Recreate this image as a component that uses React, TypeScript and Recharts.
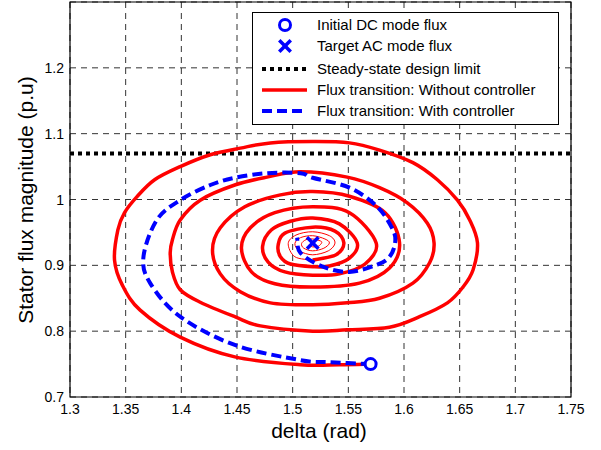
import React from 'react';
import {
  ComposedChart,
  Line,
  Scatter,
  XAxis,
  YAxis,
  CartesianGrid,
  ReferenceLine,
  ReferenceArea,
} from 'recharts';

// Axis ticks
const deltaTicks = [1.3, 1.35, 1.4, 1.45, 1.5, 1.55, 1.6, 1.65, 1.7, 1.75];
const fluxTicks = [0.7, 0.8, 0.9, 1.0, 1.1, 1.2];

// Steady-state design limit (p.u)
const steadyStateLimit = 1.07;

// Operating points
const initialDelta = [1.57];
const initialFlux = [0.75];
const targetDelta = [1.518];
const targetFlux = [0.934];

// Flux transition without controller (outer, heavy part of the spiral)
const noCtrlDelta = [
  // turn 1
  1.570, 1.542, 1.507, 1.448, 1.399, 1.363, 1.347, 1.340, 1.343, 1.349, 1.360, 1.376, 1.399, 1.426,
  1.453, 1.480, 1.518, 1.551, 1.578, 1.608, 1.630, 1.648, 1.659, 1.666, 1.662, 1.653, 1.639, 1.614,
  1.587, 1.549, 1.518,
  // turn 2
  1.471, 1.448, 1.417, 1.399, 1.392, 1.390, 1.392, 1.399, 1.417, 1.448, 1.477, 1.507, 1.549, 1.578,
  1.603, 1.621, 1.627, 1.623, 1.608, 1.578, 1.549, 1.518,
  // turn 3
  1.480, 1.453, 1.435, 1.428, 1.435, 1.457, 1.489, 1.518, 1.551, 1.583, 1.596, 1.587, 1.560, 1.518,
  // turn 4
  1.484, 1.463, 1.454, 1.462, 1.484, 1.518, 1.551, 1.575, 1.565, 1.542, 1.518,
  // turn 5
  1.493, 1.478, 1.473, 1.481, 1.498, 1.518, 1.542, 1.558, 1.551, 1.533, 1.518,
  // turn 6
  1.498, 1.489, 1.487, 1.493, 1.518, 1.538, 1.546, 1.539, 1.518,
];
const noCtrlFlux = [
  // turn 1
  0.750, 0.749, 0.749, 0.761, 0.791, 0.832, 0.870, 0.908, 0.954, 0.980, 1.004, 1.030, 1.050, 1.068,
  1.078, 1.086, 1.088, 1.086, 1.075, 1.056, 1.030, 0.999, 0.969, 0.934, 0.893, 0.867, 0.843, 0.822,
  0.806, 0.802, 0.800,
  // turn 2
  0.808, 0.822, 0.844, 0.863, 0.890, 0.919, 0.939, 0.969, 0.999, 1.022, 1.034, 1.042, 1.034, 1.018,
  0.995, 0.964, 0.934, 0.904, 0.873, 0.850, 0.843, 0.840,
  // turn 3
  0.843, 0.860, 0.887, 0.923, 0.957, 0.989, 1.007, 1.012, 1.005, 0.980, 0.934, 0.896, 0.873, 0.867,
  // turn 4
  0.872, 0.890, 0.926, 0.957, 0.980, 0.989, 0.980, 0.934, 0.902, 0.887, 0.885,
  // turn 5
  0.890, 0.905, 0.929, 0.954, 0.967, 0.972, 0.963, 0.934, 0.911, 0.899, 0.898,
  // turn 6
  0.902, 0.913, 0.931, 0.949, 0.958, 0.952, 0.934, 0.916, 0.908,
];

// Flux transition without controller (inner, settling rings)
const noCtrlTailDelta = [
  1.518, 1.502, 1.496, 1.503, 1.518, 1.533, 1.538, 1.532, 1.518, 1.506, 1.502, 1.507, 1.518, 1.529,
  1.533, 1.528, 1.518, 1.510, 1.508, 1.512, 1.518, 1.525, 1.526, 1.523, 1.518, 1.515, 1.518,
];
const noCtrlTailFlux = [
  0.908, 0.913, 0.933, 0.946, 0.951, 0.945, 0.934, 0.922, 0.916, 0.922, 0.933, 0.942, 0.945, 0.940,
  0.934, 0.926, 0.922, 0.926, 0.933, 0.939, 0.940, 0.937, 0.934, 0.929, 0.928, 0.931, 0.934,
];

// Flux transition with controller
const ctrlDelta = [
  1.570, 1.533, 1.507, 1.448, 1.399, 1.372, 1.366, 1.378, 1.399, 1.426, 1.448, 1.477, 1.507, 1.518,
  1.551, 1.576, 1.590, 1.592, 1.587, 1.576, 1.551, 1.527, 1.507, 1.504,
];
const ctrlFlux = [
  0.750, 0.753, 0.756, 0.779, 0.822, 0.873, 0.913, 0.969, 0.999, 1.022, 1.033, 1.040, 1.040, 1.033,
  1.018, 0.989, 0.954, 0.934, 0.913, 0.901, 0.890, 0.898, 0.919, 0.942,
];

const toPoints = (xs: number[], ys: number[]) => xs.map((x, i) => ({ x, y: ys[i] }));

const noCtrlData = toPoints(noCtrlDelta, noCtrlFlux);
const noCtrlTailData = toPoints(noCtrlTailDelta, noCtrlTailFlux);
const ctrlData = toPoints(ctrlDelta, ctrlFlux);
const initialData = toPoints(initialDelta, initialFlux);
const targetData = toPoints(targetDelta, targetFlux);

const FONT = '"Liberation Sans", Arial, Helvetica, sans-serif';
const RED = '#ff0000';
const BLUE = '#0000ff';

// Parametric Catmull-Rom curve: passes through every point in order, so it
// follows trajectories that loop back on themselves without overshooting much.
function catmullRomCurve(context: any) {
  let pts: [number, number][] = [];
  return {
    areaStart() {},
    areaEnd() {},
    lineStart() {
      pts = [];
    },
    point(x: number, y: number) {
      pts.push([+x, +y]);
    },
    lineEnd() {
      const n = pts.length;
      if (!n) return;
      context.moveTo(pts[0][0], pts[0][1]);
      for (let i = 0; i < n - 1; i++) {
        const p0 = pts[Math.max(i - 1, 0)];
        const p1 = pts[i];
        const p2 = pts[i + 1];
        const p3 = pts[Math.min(i + 2, n - 1)];
        context.bezierCurveTo(
          p1[0] + (p2[0] - p0[0]) / 6,
          p1[1] + (p2[1] - p0[1]) / 6,
          p2[0] - (p3[0] - p1[0]) / 6,
          p2[1] - (p3[1] - p1[1]) / 6,
          p2[0],
          p2[1]
        );
      }
    },
  };
}

const XTick = (props: any) => {
  const { x, y, payload } = props;
  return (
    <text x={x} y={y + 17} textAnchor="middle" fontSize={14} fontFamily={FONT} fill="#000">
      {String(payload.value)}
    </text>
  );
};

const YTick = (props: any) => {
  const { x, y, payload } = props;
  return (
    <text x={x - 6} y={y + 5} textAnchor="end" fontSize={14} fontFamily={FONT} fill="#000">
      {String(payload.value)}
    </text>
  );
};

const CircleMarker = (props: any) => (
  <circle cx={props.cx} cy={props.cy} r={5.5} fill="#fff" stroke={BLUE} strokeWidth={3} />
);

const CrossMarker = (props: any) => {
  const { cx, cy } = props;
  const s = 4.5;
  return (
    <g stroke={BLUE} strokeWidth={3.5} strokeLinecap="square">
      <line x1={cx - s} y1={cy - s} x2={cx + s} y2={cy + s} />
      <line x1={cx - s} y1={cy + s} x2={cx + s} y2={cy - s} />
    </g>
  );
};

const legendRows = [
  { label: 'Initial DC mode flux', kind: 'circle', y: 25 },
  { label: 'Target AC mode flux', kind: 'cross', y: 46 },
  { label: 'Steady-state design limit', kind: 'dotted', y: 69 },
  { label: 'Flux transition: Without controller', kind: 'red', y: 90 },
  { label: 'Flux transition: With controller', kind: 'blue', y: 111 },
];

const LegendOverlay = () => (
  <svg
    width={601}
    height={450}
    style={{ position: 'absolute', left: 0, top: 0, pointerEvents: 'none' }}
  >
    <rect x={252.5} y={12.5} width={306} height={112} fill="#fff" stroke="#000" strokeWidth={1} />
    {legendRows.map((r) => (
      <g key={r.label}>
        {r.kind === 'circle' && (
          <circle cx={285} cy={r.y} r={5.5} fill="#fff" stroke={BLUE} strokeWidth={3} />
        )}
        {r.kind === 'cross' && <CrossMarker cx={285} cy={r.y} />}
        {r.kind === 'dotted' && (
          <line x1={262} y1={r.y} x2={307} y2={r.y} stroke="#000" strokeWidth={4} strokeDasharray="4 4" />
        )}
        {r.kind === 'red' && <line x1={262} y1={r.y} x2={307} y2={r.y} stroke={RED} strokeWidth={3.5} />}
        {r.kind === 'blue' && (
          <line x1={262} y1={r.y} x2={307} y2={r.y} stroke={BLUE} strokeWidth={4} strokeDasharray="10 5" />
        )}
        <text x={317} y={r.y + 5} fontSize={15} fontFamily={FONT} fill="#000">
          {r.label}
        </text>
      </g>
    ))}
    <text x={319} y={438} textAnchor="middle" fontSize={21} fontFamily={FONT} fill="#000">
      delta (rad)
    </text>
    <text
      x={0}
      y={0}
      transform="translate(33 200) rotate(-90)"
      textAnchor="middle"
      fontSize={21}
      fontFamily={FONT}
      fill="#000"
    >
      Stator flux magnitude (p.u)
    </text>
  </svg>
);

export default function App() {
  return (
    <div
      style={{
        position: 'absolute',
        left: 0,
        top: 0,
        width: 601,
        height: 450,
        background: '#fff',
        fontFamily: FONT,
      }}
    >
      <ComposedChart
        width={601}
        height={450}
        margin={{ top: 2, right: 30, bottom: 0, left: 0 }}
      >
        <CartesianGrid stroke="#333" strokeDasharray="6 5" strokeWidth={1} />
        <XAxis
          dataKey="x"
          type="number"
          domain={[1.3, 1.75]}
          ticks={deltaTicks}
          allowDataOverflow
          height={53}
          tickLine={false}
          tickSize={0}
          tickMargin={0}
          axisLine={false}
          tick={<XTick />}
        />
        <YAxis
          dataKey="y"
          type="number"
          domain={[0.7, 1.3]}
          ticks={fluxTicks}
          allowDataOverflow
          width={70}
          tickLine={false}
          tickSize={0}
          tickMargin={0}
          axisLine={false}
          tick={<YTick />}
        />
        <ReferenceLine
          y={steadyStateLimit}
          stroke="#000"
          strokeWidth={4}
          strokeDasharray="4 4"
        />
        <Line
          data={noCtrlData}
          dataKey="y"
          type={catmullRomCurve as any}
          stroke={RED}
          strokeWidth={3.5}
          dot={false}
          activeDot={false}
          isAnimationActive={false}
        />
        <Line
          data={noCtrlTailData}
          dataKey="y"
          type={catmullRomCurve as any}
          stroke={RED}
          strokeWidth={1}
          dot={false}
          activeDot={false}
          isAnimationActive={false}
        />
        <Line
          data={ctrlData}
          dataKey="y"
          type={catmullRomCurve as any}
          stroke={BLUE}
          strokeWidth={4}
          strokeDasharray="10 5"
          dot={false}
          activeDot={false}
          isAnimationActive={false}
        />
        <Scatter data={initialData} shape={<CircleMarker />} isAnimationActive={false} />
        <Scatter data={targetData} shape={<CrossMarker />} isAnimationActive={false} />
        <ReferenceArea
          x1={1.3}
          x2={1.75}
          y1={0.7}
          y2={1.3}
          fill="none"
          stroke="#000"
          strokeWidth={1.2}
          ifOverflow="visible"
        />
      </ComposedChart>
      <LegendOverlay />
    </div>
  );
}
